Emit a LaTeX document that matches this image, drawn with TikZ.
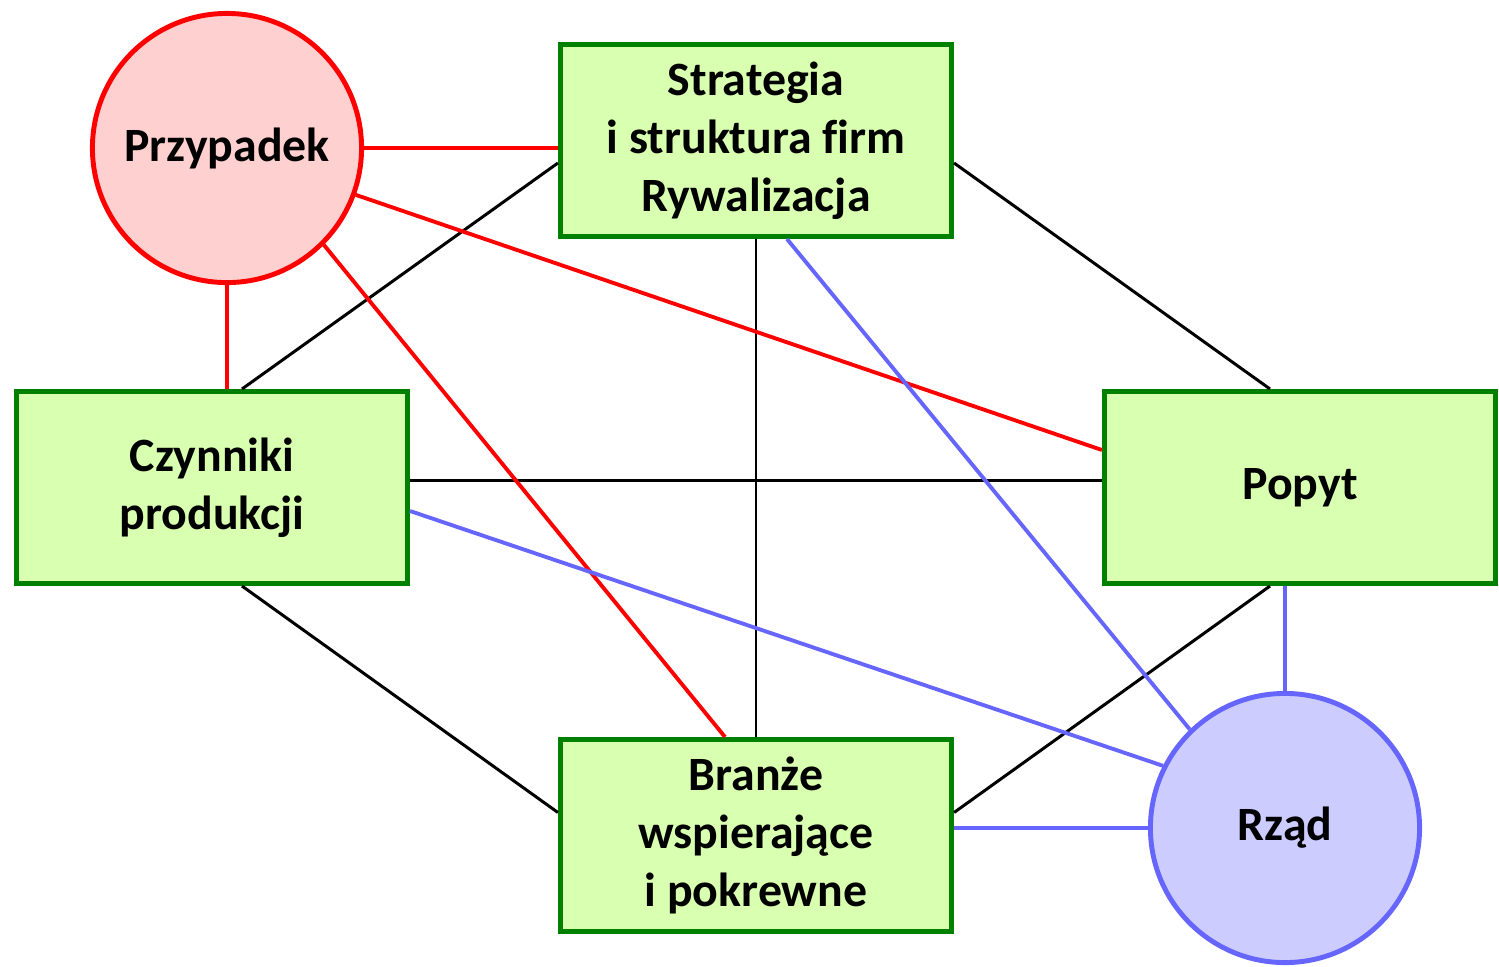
\documentclass[tikz,border=0pt]{standalone}
\usepackage{fontspec}
\setmainfont{Carlito}[Ligatures=NoCommon]
\usetikzlibrary{calc}
\definecolor{boxline}{RGB}{0,128,0}
\definecolor{boxfill}{RGB}{217,255,176}
\definecolor{redline}{RGB}{255,0,0}
\definecolor{redfill}{RGB}{255,208,208}
\definecolor{blueline}{RGB}{102,102,255}
\definecolor{bluefill}{RGB}{204,204,255}

\begin{document}
\begin{tikzpicture}
    [   x=0.01cm, y=-0.01cm,
        box/.style={draw=boxline,fill=boxfill,line width=1.4pt,minimum width=3.91cm,minimum height=1.92cm,align=center,font=\fontsize{13.6}{16.5}\selectfont\bfseries},
        cnode/.style={draw=#1line,fill=#1fill,line width=1.4pt,circle,minimum size=2.69cm,font=\fontsize{13.6}{16.5}\selectfont\bfseries},
        blk/.style={draw=black,line width=0.85pt},
        red/.style={draw=redline,line width=1.1pt},
        blu/.style={draw=blueline,line width=1.1pt},
    ]
        \useasboundingbox (0,0) rectangle (1499,966);

        % draw the nodes
        \node[box] (strat) at (756,140.5) {Strategia\\i struktura firm\\Rywalizacja};
        \node[box] (czyn) at (212,487.5) {Czynniki\\produkcji};
        \node[box] (popyt) at (1300,487.5) {Popyt};
        \node[box] (bran) at (756,835.5) {Branże\\wspierające\\i pokrewne};
        \node[cnode=red] (przyp) at (227,148) {Przypadek};
        \node[cnode=blue] (rzad) at (1285,828) {Rząd};

        % draw the black lines
        \draw[blk] ($(strat.west)+(0,22.5)$) -- ($(czyn.north)+(30,0)$);
        \draw[blk] ($(strat.east)+(0,22.5)$) -- ($(popyt.north)+(-30,0)$);
        \draw[blk] (strat.south) -- (bran.north);
        \draw[blk] ($(czyn.east)+(0,-7.5)$) -- ($(popyt.west)+(0,-7.5)$);
        \draw[blk] ($(czyn.south)+(30,0)$) -- ($(bran.west)+(0,-23)$);
        \draw[blk] ($(popyt.south)+(-30,0)$) -- ($(bran.east)+(0,-23)$);

        % draw the red lines
        \draw[red] (przyp.east) -- (przyp.east -| strat.west);
        \draw[red] (przyp.south) -- (przyp.south |- czyn.north);
        \draw[red] (przyp.-20) -- ($(popyt.west)+(0,-37.5)$);
        \draw[red] (przyp.-45) -- ($(bran.north)+(-31,0)$);

        % draw the blue lines
        \draw[blu] ($(strat.south)+(31,0)$) -- (rzad.134);
        \draw[blu] ($(czyn.east)+(0,23.5)$) -- (rzad.153);
        \draw[blu] (rzad.north |- popyt.south) -- (rzad.north);
        \draw[blu] (rzad.west) -- (rzad.west -| bran.east);
    \end{tikzpicture}
\end{document}
